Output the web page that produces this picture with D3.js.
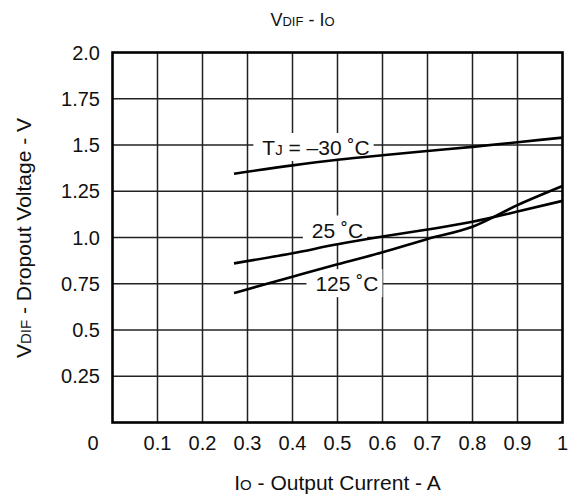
<!DOCTYPE html>
<html>
<head>
<meta charset="utf-8">
<script src="https://cdn.jsdelivr.net/npm/d3@7"></script>
<style>
  body { margin: 0; background: #fff; }
  svg { font-family: "Liberation Sans", Arial, sans-serif; }
</style>
</head>
<body>
<div id="chart"></div>
<script>
// values (Io in A, Vdif in V)
const xTicks = [0.1, 0.2, 0.3, 0.4, 0.5, 0.6, 0.7, 0.8, 0.9, 1]
const yTicks = [0.25, 0.5, 0.75, 1.0, 1.25, 1.5, 1.75, 2.0]
const yTickLabels = ['0.25', '0.5', '0.75', '1.0', '1.25', '1.5', '1.75', '2.0']
const xTickLabels = ['0.1', '0.2', '0.3', '0.4', '0.5', '0.6', '0.7', '0.8', '0.9', '1']

const currents = [0.27, 0.4, 0.5, 0.6, 0.7, 0.8, 0.9, 1.0]
const vMinus30 = [1.345, 1.39, 1.42, 1.445, 1.468, 1.49, 1.515, 1.54]
const v25 = [0.86, 0.915, 0.963, 1.005, 1.043, 1.085, 1.14, 1.198]
const v125 = [0.70, 0.788, 0.855, 0.92, 0.992, 1.058, 1.175, 1.278]

// curve labels: text, left x (A), baseline (V)
const curveLabels = [
    {parts: [['T', 21], ['J', 15], [' = \u201330 \u02DAC', 21]], x: 0.333, y: 1.446},
    {parts: [['25 \u02DAC', 21]], x: 0.443, y: 1.0},
    {parts: [['125 \u02DAC', 21]], x: 0.451, y: 0.71}
]

const width = 580, height = 499
const svg = d3.select('#chart').append('svg')
    .attr('width', width)
    .attr('height', height)

let xScale = d3.scaleLinear().domain([0, 1]).range([112.5, 562.5])
let yScale = d3.scaleLinear().domain([0, 2]).range([422.5, 52.5])

//grid
let grid = svg.append('g').attr('stroke', '#222').attr('stroke-width', 1.5)
grid.selectAll('.vline').data(xTicks.slice(0, -1)).enter()
    .append('line')
    .attr('x1', d => xScale(d)).attr('x2', d => xScale(d))
    .attr('y1', yScale(0)).attr('y2', yScale(2))
grid.selectAll('.hline').data(yTicks.slice(0, -1)).enter()
    .append('line')
    .attr('x1', xScale(0)).attr('x2', xScale(1))
    .attr('y1', d => yScale(d)).attr('y2', d => yScale(d))

//curve labels with white boxes
curveLabels.forEach(function (lab) {
    let g = svg.append('g')
    let rect = g.append('rect').attr('fill', '#fff')
    let t = g.append('text')
        .attr('x', xScale(lab.x))
        .attr('y', yScale(lab.y))
        .attr('fill', '#111')
    lab.parts.forEach(p => t.append('tspan').attr('font-size', p[1]).text(p[0]))
    let bb = t.node().getBBox()
    rect.attr('x', bb.x - 9).attr('y', bb.y - 3)
        .attr('width', bb.width + 13).attr('height', bb.height + 5)
})

//curves
let line = d3.line()
    .x(d => xScale(d[0]))
    .y(d => yScale(d[1]))
    .curve(d3.curveMonotoneX);

[vMinus30, v25, v125].forEach(function (vals) {
    svg.append('path')
        .attr('d', line(currents.map((c, i) => [c, vals[i]])))
        .attr('fill', 'none')
        .attr('stroke', '#000')
        .attr('stroke-width', 2.6)
})

//frame
svg.append('rect')
    .attr('x', xScale(0)).attr('y', yScale(2))
    .attr('width', xScale(1) - xScale(0))
    .attr('height', yScale(0) - yScale(2))
    .attr('fill', 'none')
    .attr('stroke', '#000')
    .attr('stroke-width', 2.6)

//tick labels
svg.append('g').selectAll('text').data(yTicks).enter()
    .append('text')
    .attr('x', 100)
    .attr('y', d => yScale(d) + 7)
    .attr('text-anchor', 'end')
    .attr('font-size', 20)
    .attr('fill', '#111')
    .text((d, i) => yTickLabels[i])

svg.append('g').selectAll('text').data(xTicks).enter()
    .append('text')
    .attr('x', d => xScale(d))
    .attr('y', 450)
    .attr('text-anchor', 'middle')
    .attr('font-size', 20)
    .attr('fill', '#111')
    .text((d, i) => xTickLabels[i])

svg.append('text')
    .attr('x', 93).attr('y', 450)
    .attr('text-anchor', 'middle')
    .attr('font-size', 20)
    .attr('fill', '#111')
    .text('0')

//titles
function richText(sel, parts) {
    parts.forEach(p => sel.append('tspan').attr('font-size', p[1]).text(p[0]))
    return sel
}

richText(svg.append('text')
    .attr('x', 302.5).attr('y', 26)
    .attr('text-anchor', 'middle')
    .attr('fill', '#111'),
    [['V', 18], ['DIF', 13], [' - I', 18], ['O', 13]])

richText(svg.append('text')
    .attr('x', 337.5).attr('y', 490)
    .attr('text-anchor', 'middle')
    .attr('fill', '#111'),
    [['I', 21], ['O', 15], [' - Output Current - A', 21]])

richText(svg.append('text')
    .attr('transform', 'translate(31,238) rotate(-90)')
    .attr('text-anchor', 'middle')
    .attr('fill', '#111'),
    [['V', 21], ['DIF', 15], [' - Dropout Voltage - V', 21]])
</script>
</body>
</html>
